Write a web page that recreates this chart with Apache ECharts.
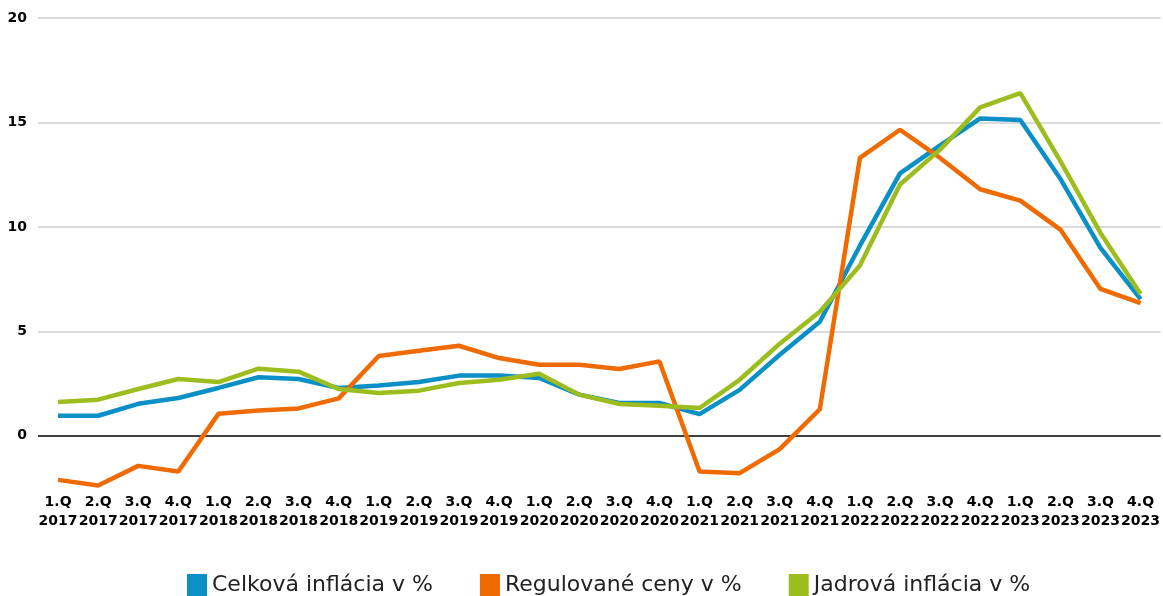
<!DOCTYPE html>
<html>
<head>
<meta charset="utf-8">
<script src="https://cdn.jsdelivr.net/npm/echarts@6/dist/echarts.min.js"></script>
<style>
  html, body { margin: 0; padding: 0; background: #fff; }
  #chart { width: 1163px; height: 596px; }
</style>
</head>
<body>
<div id="chart"></div>
<script>
  // quarters 2017 - 2023
  const quarters = [
    '1.Q\n2017', '2.Q\n2017', '3.Q\n2017', '4.Q\n2017',
    '1.Q\n2018', '2.Q\n2018', '3.Q\n2018', '4.Q\n2018',
    '1.Q\n2019', '2.Q\n2019', '3.Q\n2019', '4.Q\n2019',
    '1.Q\n2020', '2.Q\n2020', '3.Q\n2020', '4.Q\n2020',
    '1.Q\n2021', '2.Q\n2021', '3.Q\n2021', '4.Q\n2021',
    '1.Q\n2022', '2.Q\n2022', '3.Q\n2022', '4.Q\n2022',
    '1.Q\n2023', '2.Q\n2023', '3.Q\n2023', '4.Q\n2023'
  ]

  const celkova = [
    0.96, 0.96, 1.53, 1.81, 2.29, 2.8, 2.72, 2.29,
    2.41, 2.57, 2.88, 2.88, 2.77, 1.97, 1.57, 1.57,
    1.04, 2.2, 3.88, 5.46, 9.1, 12.56, 13.9, 15.19,
    15.12, 12.3, 9.0, 6.54
  ]

  const regulovane = [
    -2.11, -2.38, -1.44, -1.71, 1.05, 1.21, 1.31, 1.79,
    3.82, 4.07, 4.31, 3.72, 3.4, 3.4, 3.2, 3.56,
    -1.71, -1.79, -0.64, 1.27, 13.3, 14.65, 13.3, 11.8,
    11.26, 9.87, 7.03, 6.35
  ]

  const jadrova = [
    1.62, 1.73, 2.24, 2.72, 2.57, 3.21, 3.07, 2.24,
    2.05, 2.16, 2.53, 2.68, 2.97, 1.97, 1.52, 1.44,
    1.33, 2.68, 4.41, 5.94, 8.15, 12.03, 13.7, 15.72,
    16.4, 13.15, 9.71, 6.79
  ]

  const yTicks = [0, 5, 10, 15, 20]

  const chart = echarts.init(document.getElementById('chart'), null, { renderer: 'canvas' })

  const tickFont = {
    fontFamily: 'DejaVu Sans',
    fontWeight: 'bold',
    fontSize: 14,
    color: '#000'
  }

  const mkSeries = (name, data, color, extra) => Object.assign({
    name: name,
    type: 'line',
    data: data,
    symbol: 'none',
    lineStyle: { width: 4.5, color: color },
    itemStyle: { color: color }
  }, extra || {})

  const option = {
    animation: false,
    grid: { left: 38, right: 0, top: 18, bottom: 108 },
    legend: {
      left: 187,
      top: 574,
      padding: 0,
      itemWidth: 20,
      itemHeight: 22,
      itemGap: 47,
      icon: 'rect',
      textStyle: { fontFamily: 'DejaVu Sans', fontSize: 22, color: '#222' },
      data: ['Celková inflácia v %', 'Regulované ceny v %', 'Jadrová inflácia v %']
    },
    xAxis: {
      type: 'category',
      data: quarters,
      boundaryGap: true,
      axisLine: { show: false },
      axisTick: { show: false },
      axisLabel: Object.assign({ interval: 0, margin: 5, lineHeight: 19 }, tickFont)
    },
    yAxis: {
      type: 'value',
      min: -2.5,
      max: 20,
      axisLine: { show: false },
      axisTick: { show: false },
      splitLine: { show: false },
      axisLabel: Object.assign({ customValues: yTicks, margin: 11 }, tickFont)
    },
    series: [
      mkSeries('Celková inflácia v %', celkova, '#0a8fc7', {
        markLine: {
          silent: true,
          symbol: 'none',
          label: { show: false },
          z: 1,
          data: yTicks.map(v => ({
            yAxis: v,
            lineStyle: {
              type: 'solid',
              color: v === 0 ? '#000' : '#cfcfcf',
              width: 1.5
            }
          }))
        }
      }),
      mkSeries('Regulované ceny v %', regulovane, '#ef6a00'),
      mkSeries('Jadrová inflácia v %', jadrova, '#9dbd1f')
    ]
  }

  chart.setOption(option)
</script>
</body>
</html>
